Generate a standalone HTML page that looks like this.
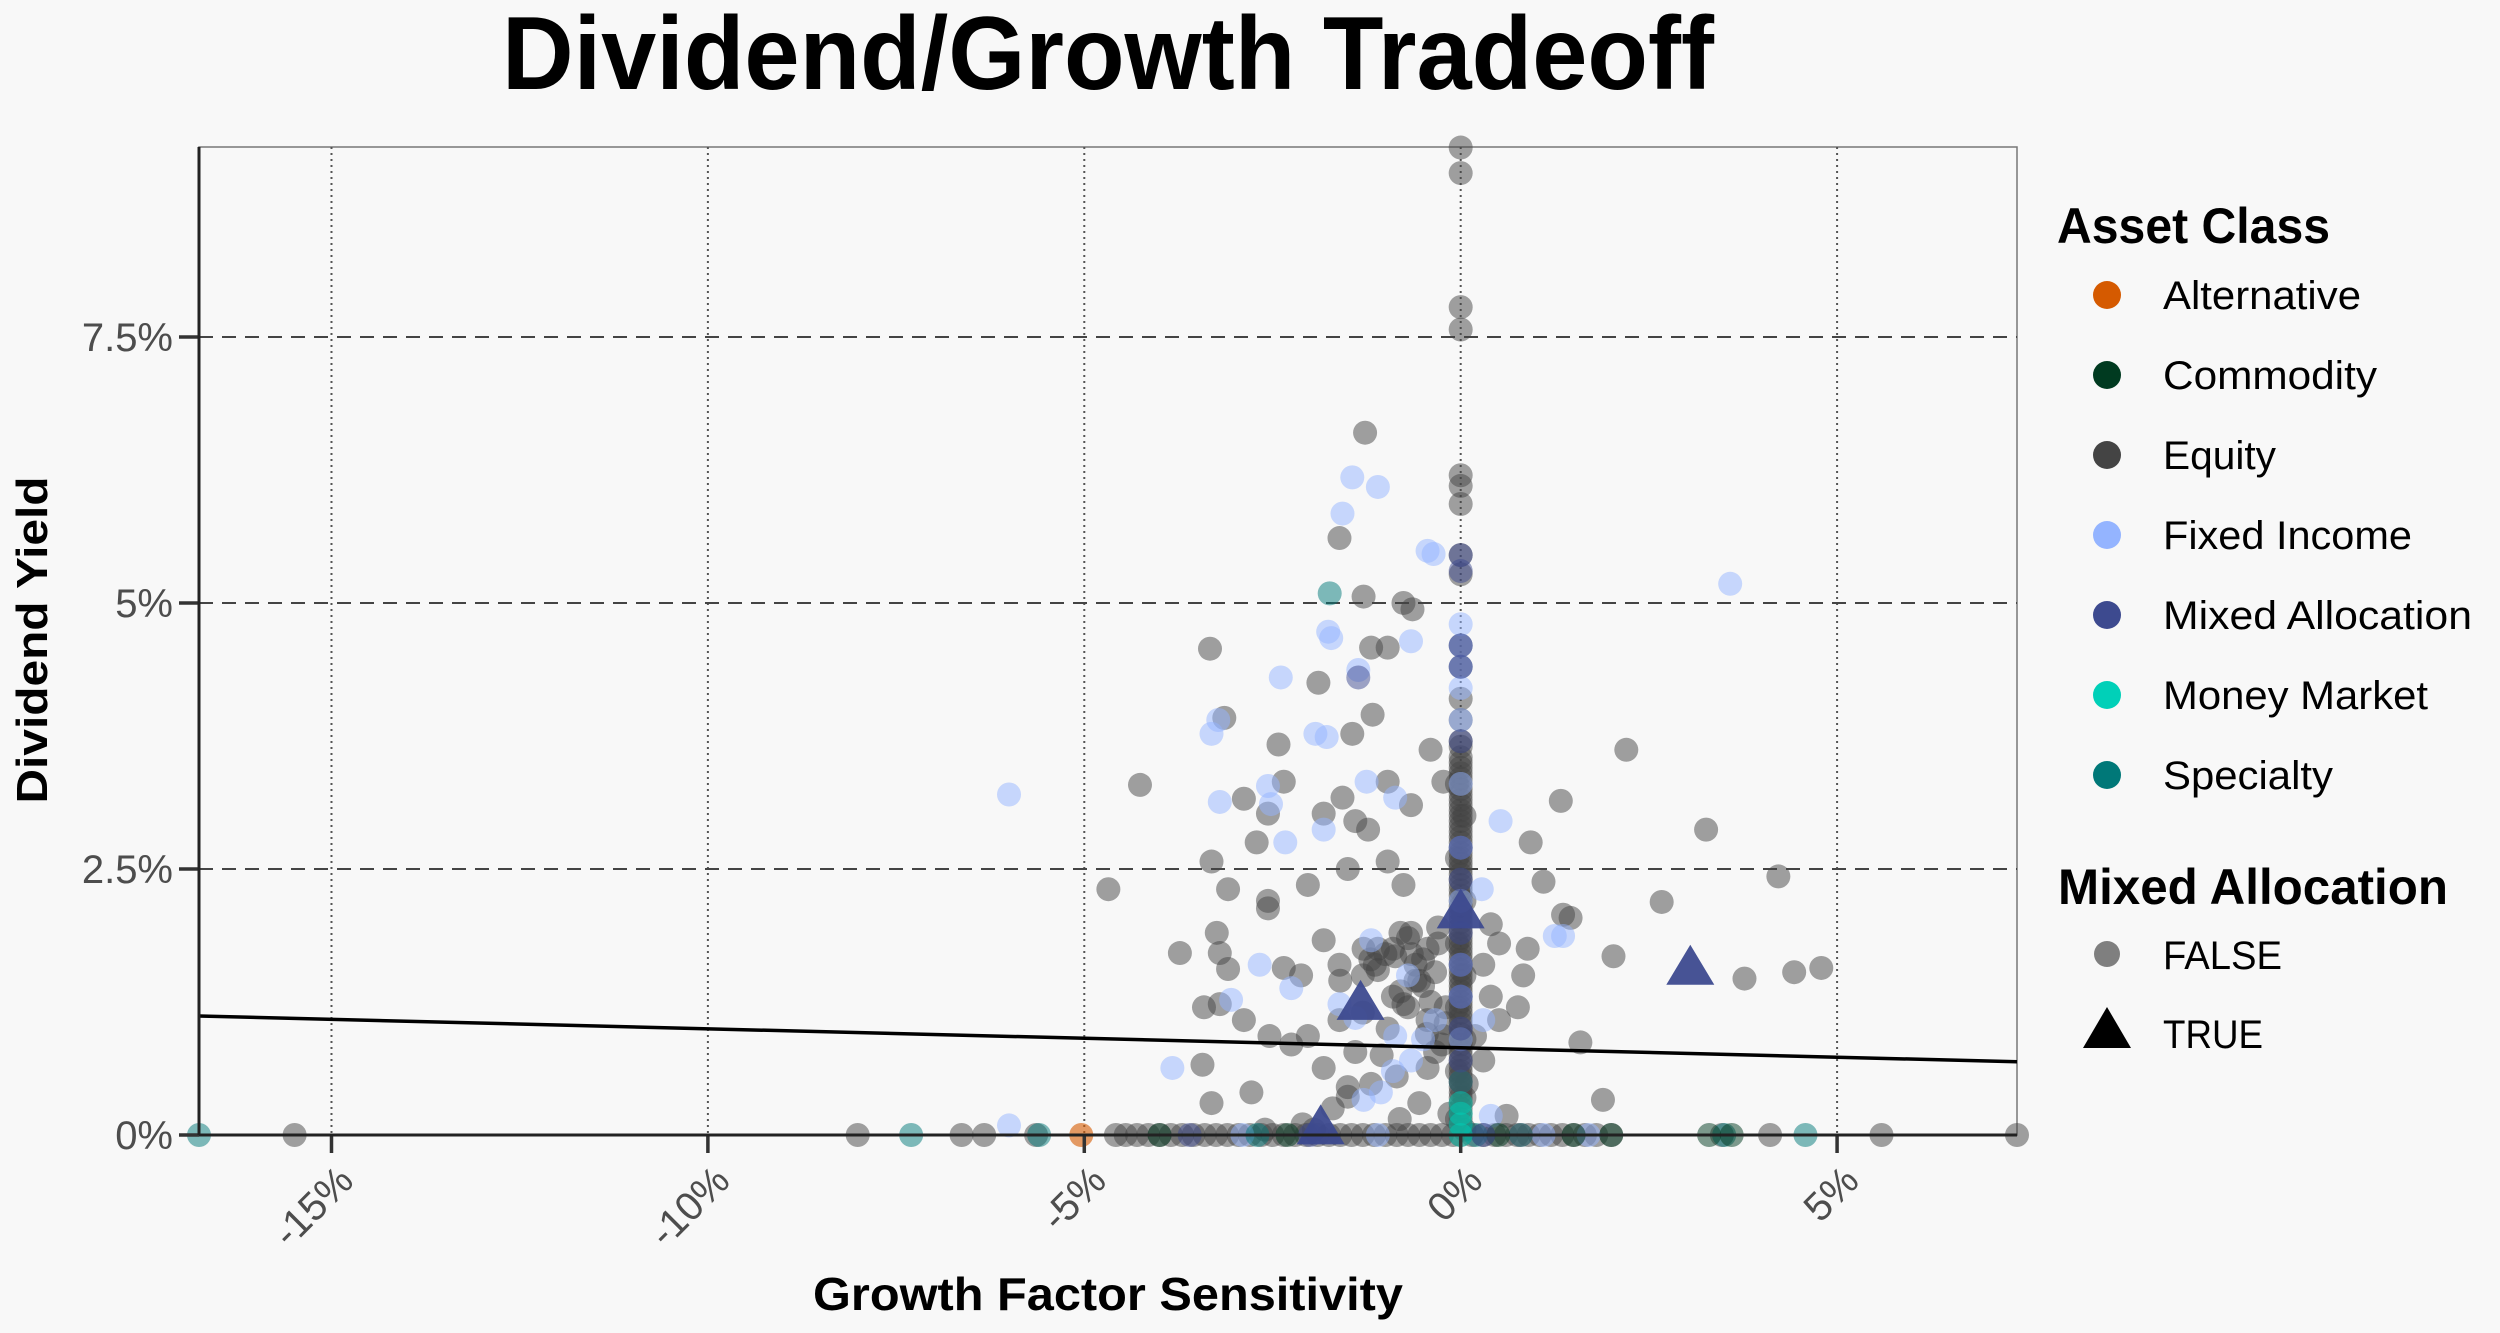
<!DOCTYPE html>
<html><head><meta charset="utf-8">
<style>
html,body{margin:0;padding:0;background:#f8f8f8;}
svg{display:block;}
text{font-family:"Liberation Sans Narrow","Liberation Sans",sans-serif;}
</style></head>
<body>
<svg id="chart" width="2500" height="1333" viewBox="0 0 2500 1333" xmlns="http://www.w3.org/2000/svg">
<rect x="0" y="0" width="2500" height="1333" fill="#f8f8f8"/>
<text x="1108" y="89" text-anchor="middle" font-size="104" font-weight="bold" fill="#000" textLength="1212" lengthAdjust="spacingAndGlyphs">Dividend/Growth Tradeoff</text>
<g id="grid"></g>
<g id="points"></g>
<g id="axes"></g>
<text transform="translate(47,640) rotate(-90)" text-anchor="middle" font-size="44" font-weight="bold" fill="#000" textLength="327" lengthAdjust="spacingAndGlyphs">Dividend Yield</text>
<text x="1108" y="1310" text-anchor="middle" font-size="46" font-weight="bold" fill="#000" textLength="590" lengthAdjust="spacingAndGlyphs">Growth Factor Sensitivity</text>
<g id="legend"></g>
</svg>
<script>
// ---- data ----
const xTicks = [-15, -10, -5, 0, 5];
const xTickLabels = ["-15%", "-10%", "-5%", "0%", "5%"];
const yTicks = [0, 2.5, 5, 7.5];
const yTickLabels = ["0%", "2.5%", "5%", "7.5%"];
const xDomain = [-16.76, 7.39];
const yDomain = [0, 9.285];
const fitIntercept = 0.82;
const fitSlope = -0.0178;

const equityX = [0,0,0,0,0,0,0,0,0,0,0,0,0,0,0,0,0,0,0,0,0,0,0,0,0,0,0,0,0,0,0,0,0,0,0,0,0,0,0,0,0,0,0,0,0,0,0,0,0,0,
 -1.27,-1.61,-3.33,-3.14,-4.26,-4.68,-1.89,-1.29,-1.19,-0.97,-0.76,-0.64,-1.44,-1.17,-2.42,-2.35,-2.88,-2.56,-1.82,-1.57,-1.40,-1.23,-0.97,-0.66,-0.40,-0.23,
 -2.71,-3.31,-3.09,-2.56,-2.03,-1.5,-0.97,-0.76,-3.24,-3.2,-3.09,-3.73,-2.56,-2.35,-2.12,-1.82,-1.61,-1.29,-1.14,-0.87,-0.66,-0.44,-0.34,-0.55,
 -3.41,-3.2,-2.88,-2.54,-2.25,-2.03,-1.61,-1.4,-0.97,-0.76,-0.44,-0.23,-3.43,-2.78,-3.31,-1.82,-1.5,-1.19,-0.81,-0.44,-0.34,
 0.40,0.30,0.51,0.40,0.83,0.76,0.89,0.93,1.1,1.36,1.46,1.33,1.59,1.89,2.03,2.2,2.67,3.26,3.77,4.22,4.43,4.79,0.51,0.61,0.30,0.08,0.19,
 -1.0,-1.3,-0.6,-0.8,-1.1,-0.5,-0.2,-0.9,-1.6,-0.3,-0.7,-1.2,
 -15.49,-8.01,-6.63,-6.33,-5.64,-4.58,-4.3,-4.0,-3.7,-3.4,-3.1,-2.8,-2.5,-2.2,-1.9,-1.6,-1.3,-1.0,-0.7,-0.4,-0.1,0.3,0.6,0.9,1.2,1.5,1.8,2.0,3.47,4.11,5.59,7.39,
 0,0,0,0,0,0,0,0,0,0,0,0,0,0,0,0,0,0,0,0,0,0,0,0,0,0,0,0,0,0,0,0,0,0,0,0,
 -0.05,0.05,-0.05,0.05,-0.05,0.05,-0.05,0.05,-0.05,0.05,-0.05,0.05,
 -0.9,-0.7,-0.5,-0.3,-1.1,-0.6,-0.4,-0.8,-1.3,-0.2,-0.45,-0.65,-1.05,-0.25,-0.85,-1.5,-1.7,-2.1,-2.6,-1.95,-0.15,-0.55,
 -4.45,-4.15,-3.85,-3.55,-3.25,-2.95,-2.65,-2.35,-2.05,-1.75,-1.45,-1.15,-0.85,-0.55,-0.25,0.15,0.45,0.75,1.05,1.35,1.65];
const equityY = [9.28,9.04,7.78,7.57,6.2,6.1,5.93,5.45,5.27,4.6,4.4,4.1,3.9,3.7,3.5,3.4,3.3,3.2,3.1,3.0,2.9,2.8,2.7,2.6,2.5,2.4,2.3,2.2,2.1,2.0,1.9,1.8,1.7,1.6,1.5,1.4,1.3,1.2,1.1,1.0,0.9,0.8,0.7,0.6,0.5,0.4,0.3,0.2,0.1,0,
 6.60,5.61,4.57,3.92,3.29,2.31,4.25,5.06,4.58,4.58,5.0,4.94,3.77,3.95,3.67,3.32,3.16,3.02,3.02,3.17,2.95,2.87,3.32,3.10,3.62,3.32,
 2.75,2.57,2.31,2.2,2.35,2.5,2.57,2.35,1.90,1.71,1.56,1.71,2.13,1.57,1.5,1.83,1.6,1.75,1.6,1.68,1.9,1.75,1.53,1.45,
 1.2,1.23,1.08,0.93,0.85,0.93,1.08,0.78,1.0,1.23,1.08,0.93,0.66,0.4,0.3,0.63,0.36,0.48,0.15,0.63,0.78,
 1.98,1.6,1.8,1.3,1.5,1.2,1.75,2.75,2.38,2.07,2.04,3.14,0.87,0.33,1.68,3.62,2.19,2.87,1.47,2.43,1.53,1.57,1.08,0.18,0.7,0.48,0.93,
 1.7,1.5,1.6,1.9,1.75,1.4,1.2,1.3,1.45,1.8,1.2,1.65,
 0,0,0,0,0,0,0,0,0,0,0,0,0,0,0,0,0,0,0,0,0,0,0,0,0,0,0,0,0,0,0,0,
 3.65,3.55,3.45,3.35,3.25,3.15,3.05,2.95,2.85,2.75,2.65,2.55,2.45,2.35,2.25,2.15,2.05,1.95,1.85,1.75,1.65,1.55,1.45,1.35,1.25,1.15,1.05,0.95,0.85,0.75,0.65,0.55,0.45,0.35,0.25,0.15,
 3.3,3.0,2.6,2.2,1.8,1.5,1.2,0.9,0.6,0.35,0.15,0.05,
 1.75,1.85,1.65,1.95,1.55,1.45,1.25,1.35,1.15,1.05,0.95,1.7,0.75,0.85,0.55,0.45,0.25,0.1,0.05,0.05,0.2,0.3,
 0,0,0,0,0,0,0,0,0,0,0,0,0,0,0,0,0,0,0,0,0];

const fixedX = [-6.0,-6.0,-1.44,-1.1,-1.57,-1.76,-1.72,-2.39,-1.36,-3.31,-3.22,-1.93,-1.78,-3.2,-2.56,-2.52,-2.33,-1.82,-1.25,-0.87,-0.44,-0.36,-0.66,0.53,0.28,1.25,1.36,3.58,
 -3.83,-3.05,-2.67,-2.25,-1.61,-1.19,-0.87,-0.66,-1.29,-1.06,-0.34,0.3,0.4,
 0,0,0,0,0,0,0,0,0,0,0,0,-2.9,-1.1,0.8,-0.7,-1.4,-0.9,-0.5,1.1,1.7];
const fixedY = [3.2,0.09,6.18,6.09,5.84,4.73,4.67,4.3,4.37,3.77,3.9,3.77,3.74,3.13,3.28,3.11,2.75,2.87,3.32,3.17,5.49,5.46,4.64,2.95,2.31,1.87,1.87,5.18,
 0.63,1.27,1.6,1.38,1.23,1.83,0.93,0.7,0.33,0.4,1.08,1.08,0.18,
 4.8,4.6,4.4,4.2,3.9,3.3,2.7,2.2,1.6,1.3,0.9,0.5,0,0,0,1.5,1.1,0.6,0.9,0,0];

const mixedX = [0,0,0,0,0,0,0,0,0,-1.36,-3.6,-2.0,0.3,0,0,0];
const mixedY = [5.45,5.3,4.6,4.4,3.7,2.7,1.3,1.0,0.7,4.3,0,0,0,2.4,1.9,1.6];
const mixedTriX = [-1.33,0.0,3.05,-1.86];
const mixedTriY = [1.27,2.13,1.6,0.1];

const moneyX = [0,0,0,0];
const moneyY = [0.3,0.2,0.1,0];
const specialtyX = [-1.74,-16.76,-7.3,-5.6,0.2,3.5,4.58,-2.7];
const specialtyY = [5.09,0,0,0,0,0,0,0];
const commodityX = [-4.0,-2.3,0.5,0.8,1.5,2.0,3.3,3.6,0];
const commodityY = [0,0,0,0,0,0,0,0,0.5];
const alternativeX = [-5.04];
const alternativeY = [0];

// ---- layout ----
const L = 199, R = 2017, T = 147, B = 1135;
const sx = v => L + (v - xDomain[0]) / (xDomain[1] - xDomain[0]) * (R - L);
const sy = v => B - (v - yDomain[0]) / (yDomain[1] - yDomain[0]) * (B - T);
const NS = "http://www.w3.org/2000/svg";
function mk(tag, attrs, parent) {
  const e = document.createElementNS(NS, tag);
  for (const k in attrs) e.setAttribute(k, attrs[k]);
  parent.appendChild(e);
  return e;
}
const grid = document.getElementById('grid');
const axes = document.getElementById('axes');
const pts = document.getElementById('points');
const legend = document.getElementById('legend');

const border = mk('rect', {x:L, y:T, width:R-L, height:B-T, fill:'none', stroke:'#777', 'stroke-width':1.5}, grid);



xTicks.forEach((t, i) => {
  const x = sx(t);
  const g = mk('line', {x1:x, x2:x, y1:T, y2:B, stroke:'#555', 'stroke-width':2, 'stroke-dasharray':'2,4'}, grid);
  
  
  const tk = mk('line', {x1:x, x2:x, y1:B, y2:B+18, stroke:'#333', 'stroke-width':3.5}, axes);
  
  
  const lb = mk('text', {x:x+24, y:B+48, 'text-anchor':'end', 'font-size':40, fill:'#4d4d4d', transform:`rotate(-45 ${x+24} ${B+48})`}, axes);
  lb.textContent = xTickLabels[i];
  
  
});
yTicks.forEach((t, i) => {
  const y = sy(t);
  if (t > 0) {
    const g = mk('line', {x1:L, x2:R, y1:y, y2:y, stroke:'#444', 'stroke-width':2, 'stroke-dasharray':'14,9'}, grid);
    
    
  }
  const tk = mk('line', {x1:L-20, x2:L, y1:y, y2:y, stroke:'#333', 'stroke-width':3.5}, axes);
  
  
  const lb = mk('text', {x:173, y:y+14, 'text-anchor':'end', 'font-size':40, fill:'#4d4d4d'}, axes);
  lb.textContent = yTickLabels[i];
  
  
});

function drawPoints(xs, ys, color, op, name) {
  xs.forEach((v, i) => {
    const c = mk('circle', {cx:sx(v), cy:sy(ys[i]), r:12, fill:color, 'fill-opacity':op}, pts);
    
    
  });
}
drawPoints(equityX, equityY, '#444444', 0.5, 'equity-point');
drawPoints(fixedX, fixedY, '#94b4ff', 0.5, 'fixed-income-point');
drawPoints(specialtyX, specialtyY, '#007878', 0.5, 'specialty-point');
drawPoints(commodityX, commodityY, '#003a20', 0.5, 'commodity-point');
drawPoints(mixedX, mixedY, '#3d4a8f', 0.5, 'mixed-allocation-point');
drawPoints(moneyX, moneyY, '#00d0b8', 0.5, 'money-market-point');
drawPoints(alternativeX, alternativeY, '#d55a00', 0.6, 'alternative-point');
mixedTriX.forEach((v, i) => {
  const x = sx(v), y = sy(mixedTriY[i]);
  const p = mk('polygon', {points:`${x},${y-20} ${x-24},${y+20} ${x+24},${y+20}`, fill:'#3d4a8f', 'fill-opacity':0.95}, pts);
  
  
});

const fit = mk('line', {x1:sx(xDomain[0]), y1:sy(fitIntercept + fitSlope*xDomain[0]), x2:sx(xDomain[1]), y2:sy(fitIntercept + fitSlope*xDomain[1]), stroke:'#000', 'stroke-width':3.5}, pts);



const ax1 = mk('line', {x1:L, x2:L, y1:T, y2:B, stroke:'#222', 'stroke-width':3}, axes);


const ax2 = mk('line', {x1:L, x2:R, y1:B, y2:B, stroke:'#222', 'stroke-width':3}, axes);



const legendNames = ["Alternative","Commodity","Equity","Fixed Income","Mixed Allocation","Money Market","Specialty"];
const legendColors = ["#d55a00","#003a20","#444444","#94b4ff","#3d4a8f","#00d0b8","#007878"];
const legendWidths = [198,214,113,249,309,265,170];
const t1 = mk('text', {x:2057, y:243, 'font-size':50, 'font-weight':'bold', fill:'#000', textLength:273, lengthAdjust:'spacingAndGlyphs'}, legend);
t1.textContent = 'Asset Class';


legendNames.forEach((n, i) => {
  const y = 295 + i*80;
  const c = mk('circle', {cx:2107, cy:y, r:14, fill:legendColors[i]}, legend);
  
  
  const t = mk('text', {x:2163, y:y+14, 'font-size':40, fill:'#000', textLength:legendWidths[i], lengthAdjust:'spacingAndGlyphs'}, legend);
  t.textContent = n;
  
  
});
const t2 = mk('text', {x:2058, y:904, 'font-size':50, 'font-weight':'bold', fill:'#000', textLength:390, lengthAdjust:'spacingAndGlyphs'}, legend);
t2.textContent = 'Mixed Allocation';


const fc = mk('circle', {cx:2107, cy:954, r:13, fill:'#7f7f7f'}, legend);


const ft = mk('text', {x:2163, y:969, 'font-size':40, fill:'#000', textLength:119, lengthAdjust:'spacingAndGlyphs'}, legend);
ft.textContent = 'FALSE';


const tt = mk('polygon', {points:'2107,1007 2083,1048 2131,1048', fill:'#000'}, legend);


const tx = mk('text', {x:2163, y:1048, 'font-size':40, fill:'#000', textLength:100, lengthAdjust:'spacingAndGlyphs'}, legend);
tx.textContent = 'TRUE';


</script>
</body></html>
